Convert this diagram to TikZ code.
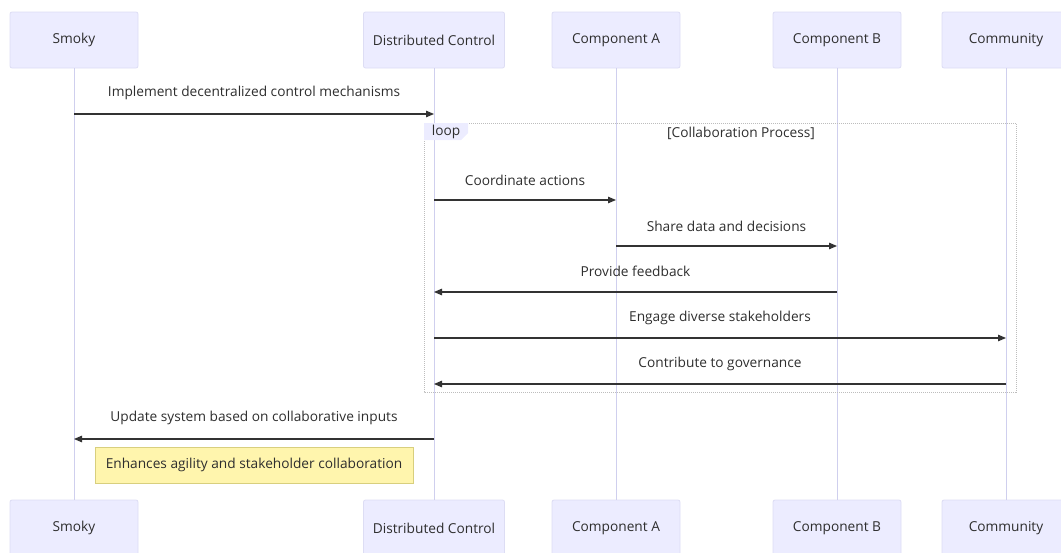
\documentclass[tikz,border=0pt]{standalone}
\usepackage{fontspec}
\setmainfont{Open Sans}
\usetikzlibrary{arrows.meta}
\definecolor{actorfill}{HTML}{ECECFF}
\definecolor{actorline}{HTML}{DDDDF4}
\definecolor{lifecol}{HTML}{CFCFEE}
\definecolor{msgcol}{HTML}{333333}
\definecolor{txtcol}{HTML}{2E2E2E}
\definecolor{notefill}{HTML}{FFF5AD}
\definecolor{noteline}{HTML}{D8CF7E}
\definecolor{loopcol}{HTML}{BDBDBD}
\newcommand{\labfont}{\fontsize{13.7}{16}\selectfont}
\tikzset{
  actor/.style={draw=actorline, fill=actorfill, rounded corners=2pt, line width=0.8pt,
    minimum height=56pt, inner sep=0pt, text=txtcol, font=\labfont},
  lifeline/.style={draw=lifecol, line width=1pt},
  msg/.style={draw=msgcol, line width=1.1pt, -{Triangle[length=8pt,width=6.5pt]}},
  msglabel/.style={text=txtcol, font=\labfont, inner sep=0pt},
  loopframe/.style={draw=loopcol, line width=0.8pt, dash pattern=on 1pt off 1pt},
  notebox/.style={draw=noteline, fill=notefill, line width=0.8pt, minimum height=36pt,
    inner sep=0pt, text=txtcol, font=\labfont}
}
\begin{document}
\begin{tikzpicture}[x=1pt, y=-1pt]
\useasboundingbox (0,0) rectangle (1061,552);
\begin{scope}
\clip (0,0) rectangle (1061,552);
% participants, top row
\node[actor, minimum width=128pt] (s)  at (74,40)   {Smoky};
\node[actor, minimum width=141pt] (dc) at (434,40)  {Distributed Control};
\node[actor, minimum width=128pt] (ca) at (616,40)  {Component A};
\node[actor, minimum width=128pt] (cb) at (837,40)  {Component B};
\node[actor, minimum width=128pt] (cm) at (1006,40) {Community};
% participants, bottom row
\node[actor, minimum width=128pt] (s2)  at (74,528)   {Smoky};
\node[actor, minimum width=141pt] (dc2) at (434,528)  {Distributed Control};
\node[actor, minimum width=128pt] (ca2) at (616,528)  {Component A};
\node[actor, minimum width=128pt] (cb2) at (837,528)  {Component B};
\node[actor, minimum width=128pt] (cm2) at (1006,528) {Community};
\end{scope}
% lifelines
\draw[lifeline] (s.south)  -- (s2.north);
\draw[lifeline] (dc.south) -- (dc2.north);
\draw[lifeline] (ca.south) -- (ca2.north);
\draw[lifeline] (cb.south) -- (cb2.north);
\draw[lifeline] (cm.south) -- (cm2.north);
% loop frame
\coordinate (lpa) at (424,123);
\coordinate (lpb) at (1016,392);
\draw[loopframe] (lpa) rectangle (lpb);
\fill[actorfill] (424,123) -- (468,123) -- (468,133) -- (461,140) -- (424,140) -- cycle;
\node[msglabel] (looptag) at (446,132) {loop};
\node[msglabel] (loopcond) at (741,133) {[Collaboration Process]};
% message rows
\coordinate (r1) at (0,114);
\coordinate (r2) at (0,200);
\coordinate (r3) at (0,246);
\coordinate (r4) at (0,292);
\coordinate (r5) at (0,338);
\coordinate (r6) at (0,384);
\coordinate (r7) at (0,439);
% messages
\draw[msg] (s |- r1) -- (dc |- r1);
\node[msglabel] (t1) at (254,93) {Implement decentralized control mechanisms};
\draw[msg] (dc |- r2) -- (ca |- r2);
\node[msglabel] (t2) at (525,180) {Coordinate actions};
\draw[msg] (ca |- r3) -- (cb |- r3);
\node[msglabel] (t3) at (726.5,226) {Share data and decisions};
\draw[msg] (cb |- r4) -- (dc |- r4);
\node[msglabel] (t4) at (635.5,271) {Provide feedback};
\draw[msg] (dc |- r5) -- (cm |- r5);
\node[msglabel] (t5) at (720,318) {Engage diverse stakeholders};
\draw[msg] (cm |- r6) -- (dc |- r6);
\node[msglabel] (t6) at (720,364) {Contribute to governance};
\draw[msg] (dc |- r7) -- (s |- r7);
\node[msglabel] (t7) at (254,418) {Update system based on collaborative inputs};
% note
\node[notebox, minimum width=318pt] (note) at (254,465) {Enhances agility and stakeholder collaboration};
\end{tikzpicture}
\end{document}
